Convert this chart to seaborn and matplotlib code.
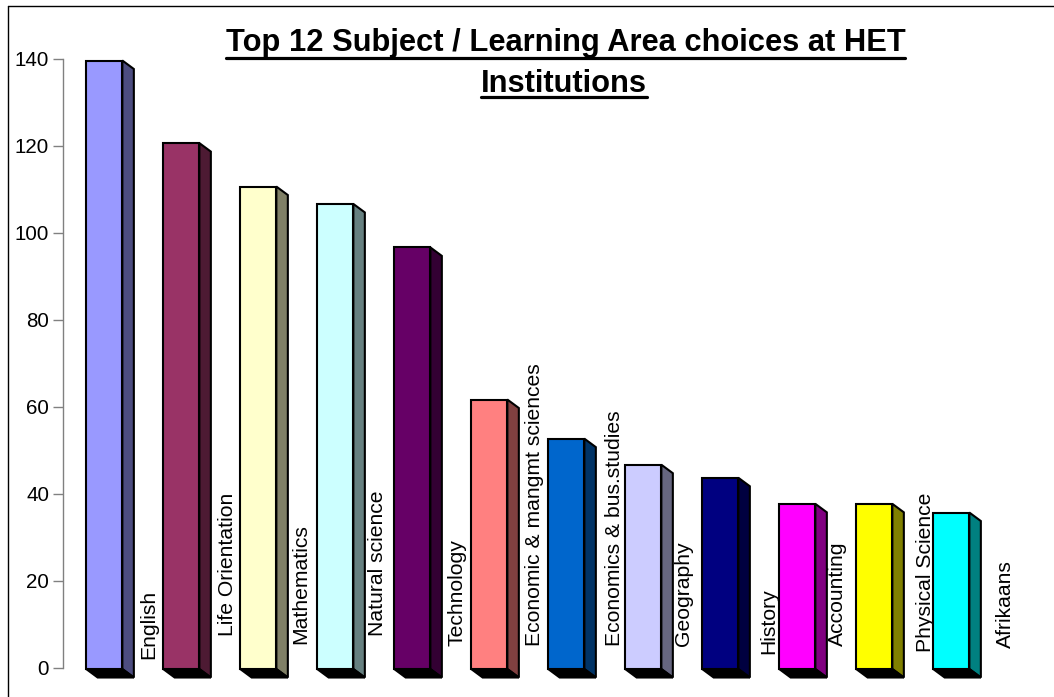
import numpy as np
import pandas as pd
import seaborn as sns
import matplotlib
matplotlib.use('Agg')
import matplotlib.pyplot as plt
from matplotlib.patches import Polygon
from matplotlib.lines import Line2D
from matplotlib.colors import to_rgb
from matplotlib.transforms import Affine2D, IdentityTransform

subjects = ['English', 'Life Orientation', 'Mathematics', 'Natural science', 'Technology',
            'Economic & mangmt sciences', 'Economics & bus.studies', 'Geography', 'History',
            'Accounting', 'Physical Science', 'Afrikaans']
choices = [140, 121, 111, 107, 97, 62, 53, 47, 44, 38, 38, 36]
colours = ['#9999FF', '#993366', '#FFFFCC', '#CCFFFF', '#660066', '#FF8080',
           '#0066CC', '#CCCCFF', '#000080', '#FF00FF', '#FFFF00', '#00FFFF']
# label shift from the tick, pixels
label_dx = [44, 46, 43, 42, 45, 45, 48, 40, 49, 40, 51, 54]
label_dy = [8.5, 32, 24, 32, 21, 22, 22, 21, 14, 22, 15, 19]

W, H = 1054, 697
sns.set_theme(style='white')
plt.rcParams['font.family'] = ['Liberation Sans', 'DejaVu Sans']

fig = plt.figure(figsize=(W / 100, H / 100), dpi=100, facecolor='white')
# axes spans the pixel box x 63..1043, y 59..667
ax = fig.add_axes([63 / W, 1 - 667.5 / H, 980 / W, 608.5 / H])

df = pd.DataFrame({'subject': subjects, 'choices': choices})
sns.barplot(data=df, x='subject', y='choices', hue='subject', palette=colours, legend=False,
            width=0.47, saturation=1, edgecolor='black', linewidth=1.5, ax=ax, zorder=3)

ax.set_xlim((63 - 104.25) / 77, (1043 - 104.25) / 77)
ax.set_ylim(0, 140)
ax.set_xlabel('')
ax.set_ylabel('')
ax.set_xticks([])
ax.set_yticks(range(0, 141, 20))
ax.tick_params(axis='y', left=True, length=7.2, width=1, color='#808080', labelsize=14.8,
               labelcolor='black', pad=2.8)
for s in ['top', 'right', 'bottom']:
    ax.spines[s].set_visible(False)
ax.spines['left'].set_color('#808080')
ax.spines['left'].set_linewidth(1)

# 3d look: side and floor faces, drawn in pixels from each bar
depth_x, depth_y, drop = 11.5, 8.5, 1.5
for bar, c in zip(list(ax.patches), colours):
    x0, x1 = bar.get_x(), bar.get_x() + bar.get_width()
    top = bar.get_height()
    (px0, pb), (px1, pt) = ax.transData.transform([(x0, 0), (x1, top)])
    pb -= drop
    pt -= drop
    bar.set_transform(ax.transData + Affine2D().translate(0, -drop))
    bar.set_clip_on(False)
    dark = tuple(v * 0.5 for v in to_rgb(c))
    ax.add_patch(Polygon([(px1, pb), (px1 + depth_x, pb - depth_y), (px1 + depth_x, pt - depth_y), (px1, pt)],
                         closed=True, transform=IdentityTransform(), facecolor=dark, edgecolor='black',
                         linewidth=1.5, joinstyle='miter', clip_on=False, zorder=2))
    ax.add_patch(Polygon([(px0, pb), (px1, pb), (px1 + depth_x, pb - depth_y), (px0 + depth_x, pb - depth_y)],
                         closed=True, transform=IdentityTransform(), facecolor='black', edgecolor='black',
                         linewidth=1.5, clip_on=False, zorder=2.5))

# category labels sit rotated just right of each bar
for k, name in enumerate(subjects):
    ax.annotate(name, xy=(k, 0), xytext=(label_dx[k], label_dy[k]), textcoords='offset pixels', rotation=90,
                ha='center', va='bottom', fontsize=15.2, color='black', annotation_clip=False, zorder=6)

title = fig.text(565.5 / W, 1 - 43 / H, 'Top 12 Subject / Learning Area choices at HET', ha='center', va='center',
                 fontsize=22.2, fontweight='bold', color='black')
title2 = fig.text(563.5 / W, 1 - 84 / H, 'Institutions', ha='center', va='center',
                  fontsize=22.2, fontweight='bold', color='black')

# underline both title rows
fig.canvas.draw()
r = fig.canvas.get_renderer()
for t, y in zip([title, title2], [57.5, 97]):
    bb = t.get_window_extent(r)
    fig.add_artist(Line2D([bb.x0 / W, bb.x1 / W], [1 - y / H, 1 - y / H], color='black', lw=2.3))

# chart frame, open on the right and bottom
fig.add_artist(Line2D([7.5 / W, 7.5 / W], [0, 1 - 6 / H], color='black', lw=1))
fig.add_artist(Line2D([7.5 / W, 1], [1 - 6 / H, 1 - 6 / H], color='black', lw=1))

fig.savefig('out.png', dpi=100)
